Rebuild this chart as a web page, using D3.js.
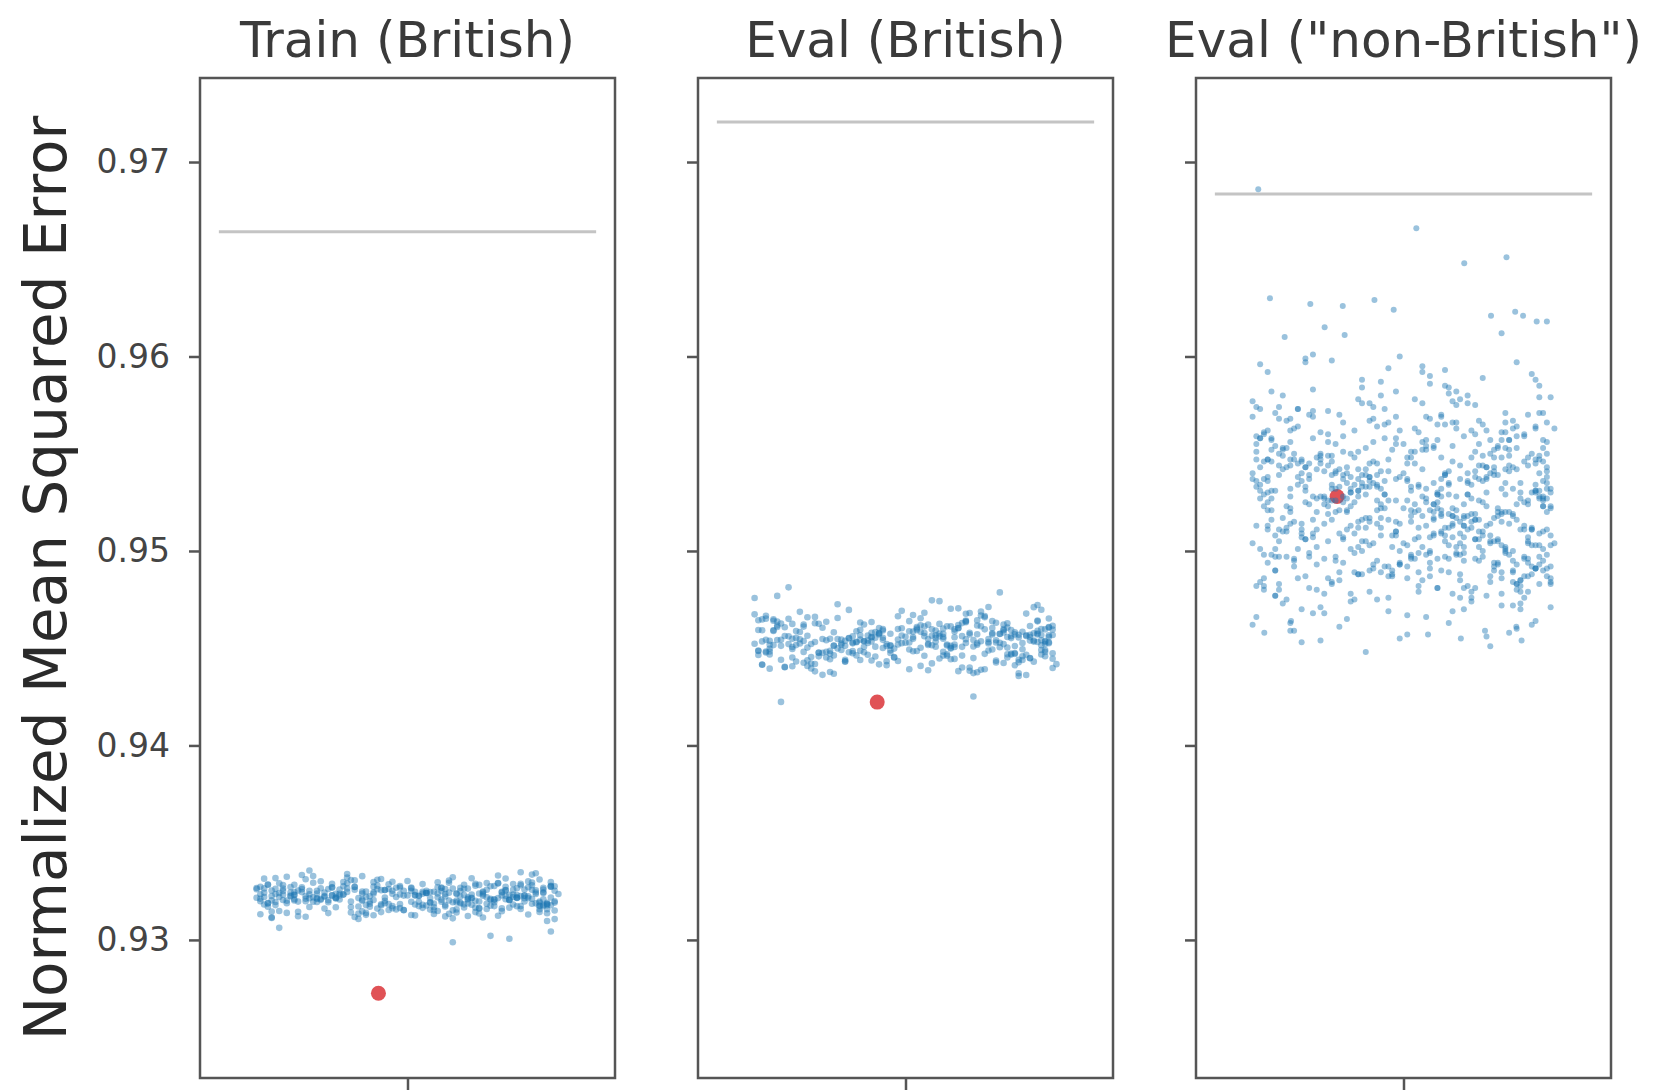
<!DOCTYPE html>
<html>
<head>
<meta charset="utf-8">
<script src="https://cdn.jsdelivr.net/npm/d3@7"></script>
<style>
  html, body { margin: 0; padding: 0; background: #ffffff; }
  svg { display: block; }
</style>
</head>
<body>
<svg id="chart" width="1654" height="1090"></svg>
<script>
// ---------------- DATA ----------------
const panelTitles = ["Train (British)", "Eval (British)", "Eval (\"non-British\")"];
const yAxisTitle = "Normalized Mean Squared Error";
const yTickValues = [0.93, 0.94, 0.95, 0.96, 0.97];
const yTickLabels = ["0.93", "0.94", "0.95", "0.96", "0.97"];

// horizontal reference line per panel
const baselineMSE = [0.96641, 0.97206, 0.96835];
// red marker per panel (x jitter, value)
const modelJitter = [-0.077, -0.075, -0.176];
const modelMSE = [0.92726, 0.94223, 0.9528];

// horizontal jitter positions of the blue points
const jitter = [
-0.31,0.07,0.26,-0.12,0.38,-0.04,0.19,-0.27,0.33,-0.36,0.02,0.14,-0.21,0.29,-0.08,0.35,-0.16,0.22,-0.39,0.10,
0.31,-0.02,-0.33,0.17,-0.25,0.05,0.37,-0.14,0.24,-0.06,0.40,-0.29,0.12,-0.18,0.28,-0.37,0.03,0.20,-0.10,0.34,
-0.23,0.09,-0.35,0.27,-0.01,0.15,-0.30,0.36,-0.11,0.21,-0.38,0.06,0.32,-0.19,0.13,-0.26,0.39,-0.07,0.25,-0.34,
0.01,-0.15,0.30,-0.22,0.18,-0.40,0.11,0.35,-0.05,0.23,-0.32,0.08,-0.17,0.37,-0.28,0.16,-0.09,0.26,-0.36,0.04,
0.33,-0.20,0.14,-0.03,0.38,-0.24,0.06,-0.13,0.29,-0.39,0.19,-0.07,0.31,-0.30,0.10,0.22,-0.16,0.36,-0.01,-0.27,
0.12,-0.34,0.27,-0.09,0.17,0.39,-0.21,0.03,-0.37,0.24,-0.12,0.34,-0.04,0.15,-0.25,0.07,0.30,-0.32,0.20,-0.14,
-0.06,0.37,-0.18,0.11,-0.29,0.25,-0.02,0.32,-0.39,0.13,0.04,-0.23,0.35,-0.10,0.21,-0.33,0.09,-0.15,0.28,-0.26,
0.18,-0.08,0.38,-0.31,0.01,0.23,-0.19,0.14,-0.36,0.30,-0.05,0.10,-0.27,0.36,-0.13,0.05,0.26,-0.38,0.16,-0.22,
-0.11,0.29,-0.35,0.08,0.19,-0.03,0.33,-0.24,0.12,-0.40,0.22,0.02,-0.17,0.39,-0.09,0.27,-0.30,0.15,-0.20,0.34,
0.06,-0.28,0.24,-0.14,0.31,-0.37,0.00,0.17,-0.07,0.36,-0.23,0.13,-0.33,0.20,0.09,-0.12,0.38,-0.26,0.04,-0.18,
0.28,-0.39,0.16,-0.05,0.25,-0.16,0.35,-0.30,0.07,-0.21,0.32,-0.10,0.18,-0.34,0.02,0.37,-0.24,0.11,-0.02,0.23,
-0.36,0.14,-0.08,0.30,-0.19,0.05,0.39,-0.28,0.21,-0.12,0.01,0.27,-0.39,0.10,-0.25,0.33,-0.06,0.19,-0.31,0.08,
0.36,-0.13,0.22,-0.35,0.12,-0.01,0.29,-0.20,0.03,0.34,-0.27,0.16,-0.09,0.24,-0.38,0.07,-0.15,0.31,-0.04,0.18,
-0.24,0.38,-0.11,0.05,-0.32,0.26,-0.17,0.13,0.33,-0.06,0.20,-0.36,0.09,-0.22,0.37,-0.14,0.01,0.28,-0.29,0.15,
0.04,-0.26,0.32,-0.16,0.21,-0.04,0.10,-0.38,0.27,-0.09,0.35,-0.19,0.17,-0.31,0.06,0.39,-0.12,0.23,-0.35,0.00,
0.25,-0.07,0.13,-0.33,0.37,-0.22,0.08,0.30,-0.15,0.19,-0.40,0.02,-0.26,0.34,-0.02,0.16,-0.34,0.11,0.26,-0.10,
-0.30,0.20,-0.03,0.36,-0.25,0.15,-0.12,0.06,-0.37,0.28,0.11,-0.18,0.31,-0.07,0.22,-0.33,0.38,-0.20,0.09,-0.01,
0.35,-0.23,0.02,0.18,-0.35,0.29,-0.11,0.24,-0.04,0.12,-0.29,0.39,-0.16,0.07,-0.38,0.17,0.32,-0.08,0.14,-0.27,
-0.14,0.10,0.33,-0.21,0.04,-0.32,0.26,-0.06,0.37,-0.17,0.21,-0.02,-0.36,0.29,0.13,-0.24,0.05,0.35,-0.11,0.25,
0.08,-0.37,0.19,-0.13,0.30,0.03,-0.28,0.16,-0.20,0.38,-0.05,0.23,-0.34,0.12,-0.09,0.27,-0.30,0.01,0.36,-0.19
];

const trainBritishMSE = [
0.93224,0.93187,0.93256,0.93201,0.93278,0.93163,0.93239,0.93212,0.93295,0.93146,0.93231,0.93268,0.93194,0.93218,0.93309,0.93175,0.93247,0.93206,0.93132,0.93261,
0.93229,0.93184,0.93252,0.93317,0.93196,0.93241,0.93158,0.93273,0.93215,0.93189,0.93236,0.93122,0.93264,0.93208,0.93287,0.93171,0.93226,0.93249,0.93198,0.93343,
0.93211,0.93267,0.93179,0.93232,0.93154,0.93284,0.93203,0.93245,0.93139,0.93258,0.93221,0.93192,0.93301,0.93168,0.93237,0.93214,0.93276,0.93183,0.93229,0.93062,
0.93252,0.93197,0.93225,0.93161,0.93289,0.93217,0.93243,0.93176,0.93262,0.93208,0.93325,0.93149,0.93234,0.93191,0.93271,0.93219,0.93127,0.93255,0.93204,0.93238,
0.93186,0.93269,0.93222,0.93157,0.93297,0.93213,0.93246,0.93172,0.93231,0.93199,0.93283,0.93143,0.93259,0.93209,0.93236,0.93021,0.93265,0.93181,0.93228,0.93312,
0.93194,0.93241,0.93166,0.93274,0.93216,0.93253,0.93138,0.93227,0.93188,0.93291,0.93207,0.93244,0.93174,0.93263,0.93219,0.93152,0.93281,0.93202,0.93235,0.93118,
0.93257,0.93185,0.93229,0.93305,0.93197,0.93248,0.93164,0.93271,0.93212,0.93239,0.93181,0.93266,0.93144,0.93224,0.93293,0.93205,0.93251,0.93169,0.93233,0.93357,
0.93201,0.93261,0.93178,0.93243,0.93128,0.93277,0.93216,0.93192,0.93254,0.93159,0.93286,0.93223,0.93199,0.93268,0.93135,0.93241,0.93209,0.93315,0.93187,0.93226,
0.93249,0.93173,0.93236,0.93296,0.93162,0.93221,0.93258,0.93195,0.92988,0.93267,0.93211,0.93182,0.93276,0.93151,0.93238,0.93204,0.93284,0.93167,0.93229,0.93255,
0.93193,0.93246,0.93124,0.93272,0.93214,0.93189,0.93303,0.93233,0.93177,0.93259,0.93206,0.93141,0.93264,0.93227,0.93196,0.93328,0.93218,0.93253,0.93165,0.93237,
0.93182,0.93273,0.93208,0.93154,0.93244,0.93291,0.93197,0.93231,0.93133,0.93262,0.93215,0.93186,0.93279,0.93221,0.93248,0.93097,0.93239,0.93203,0.93269,0.93174,
0.93226,0.93251,0.93161,0.93288,0.93213,0.93242,0.93192,0.93334,0.93219,0.93147,0.93266,0.93205,0.93235,0.93179,0.93294,0.93212,0.93257,0.93136,0.93228,0.93271,
0.93241,0.93108,0.93276,0.93195,0.93322,0.93153,0.93217,0.93289,0.93174,0.93236,0.93119,0.93264,0.93205,0.93331,0.93182,0.93248,0.93141,0.93227,0.93299,0.93166,
0.93213,0.93274,0.93129,0.93252,0.93189,0.93316,0.93233,0.93157,0.93281,0.93201,0.93244,0.93113,0.93269,0.93222,0.93178,0.93306,0.93196,0.93258,0.93145,0.93231,
0.93287,0.93169,0.93224,0.93339,0.93186,0.93253,0.93121,0.93265,0.93208,0.93297,0.93158,0.93237,0.93181,0.93272,0.93215,0.93107,0.93249,0.93194,0.93318,0.93229,
0.93162,0.93256,0.93203,0.93282,0.93137,0.93243,0.93219,0.93174,0.93308,0.93197,0.93261,0.93126,0.93235,0.93188,0.93277,0.93211,0.93149,0.93294,0.93226,0.93171,
0.93246,0.93115,0.93268,0.93209,0.93329,0.93183,0.93239,0.93156,0.93285,0.93221,0.93134,0.93259,0.93198,0.93313,0.93176,0.93232,0.93043,0.93271,0.93207,0.93253,
0.93191,0.93302,0.93228,0.93143,0.93263,0.93216,0.93179,0.93292,0.93237,0.93111,0.93254,0.93199,0.93321,0.93168,0.93242,0.93214,0.93131,0.93279,0.93187,0.93225,
0.93258,0.93172,0.93336,0.93204,0.93247,0.93139,0.93273,0.93218,0.93185,0.93298,0.93159,0.93234,0.93116,0.93266,0.93193,0.93252,0.93177,0.93311,0.93222,0.93148,
0.93239,0.93284,0.93163,0.93215,0.93348,0.93196,0.93261,0.93123,0.93229,0.93274,0.93184,0.93207,0.93291,0.93152,0.93245,0.93006,0.93232,0.93269,0.93175,0.93218
];

const evalBritishMSE = [
0.94536,0.94471,0.94592,0.94508,0.94643,0.94452,0.94557,0.94419,0.94612,0.94523,0.94488,0.94671,0.94544,0.94398,0.94579,0.94503,0.94625,0.94462,0.94548,0.94711,
0.94517,0.94583,0.94436,0.94561,0.94495,0.94652,0.94528,0.94384,0.94604,0.94541,0.94476,0.94597,0.94512,0.94689,0.94447,0.94566,0.94531,0.94409,0.94618,0.94499,
0.94552,0.94465,0.94638,0.94521,0.94573,0.94441,0.94589,0.94506,0.94746,0.94482,0.94563,0.94527,0.94372,0.94609,0.94548,0.94491,0.94661,0.94519,0.94434,0.94577,
0.94538,0.94603,0.94457,0.94569,0.94513,0.94682,0.94474,0.94546,0.94392,0.94595,0.94529,0.94628,0.94486,0.94558,0.94421,0.94614,0.94501,0.94572,0.94813,0.94534,
0.94468,0.94587,0.94524,0.94649,0.94443,0.94565,0.94511,0.94378,0.94601,0.94539,0.94481,0.94634,0.94556,0.94427,0.94592,0.94515,0.94697,0.94459,0.94574,0.94252,
0.94532,0.94609,0.94479,0.94562,0.94404,0.94621,0.94518,0.94586,0.94448,0.94543,0.94668,0.94497,0.94576,0.94363,0.94597,0.94525,0.94639,0.94472,0.94553,0.94507,
0.94584,0.94438,0.94567,0.94512,0.94659,0.94489,0.94549,0.94416,0.94606,0.94535,0.94722,0.94463,0.94571,0.94521,0.94387,0.94615,0.94544,0.94493,0.94641,0.94559,
0.94505,0.94578,0.94445,0.94627,0.94533,0.94476,0.94591,0.94357,0.94552,0.94518,0.94674,0.94484,0.94564,0.94431,0.94599,0.94527,0.94769,0.94469,0.94581,0.94539,
0.94496,0.94613,0.94454,0.94568,0.94522,0.94401,0.94632,0.94547,0.94478,0.94594,0.94514,0.94655,0.94439,0.94575,0.94532,0.94224,0.94606,0.94487,0.94561,0.94526,
0.94642,0.94458,0.94557,0.94509,0.94589,0.94412,0.94622,0.94541,0.94475,0.94703,0.94516,0.94568,0.94433,0.94597,0.94535,0.94681,0.94466,0.94554,0.94382,0.94611,
0.94529,0.94574,0.94449,0.94636,0.94502,0.94563,0.94424,0.94598,0.94537,0.94491,0.94665,0.94545,0.94395,0.94582,0.94519,0.94628,0.94461,0.94571,0.94507,0.94787,
0.94553,0.94483,0.94617,0.94531,0.94441,0.94593,0.94524,0.94677,0.94472,0.94566,0.94413,0.94604,0.94542,0.94498,0.94635,0.94558,0.94452,0.94587,0.94515,0.94369,
0.94561,0.94422,0.94598,0.94487,0.94653,0.94513,0.94376,0.94622,0.94539,0.94468,0.94586,0.94705,0.94452,0.94571,0.94508,0.94638,0.94431,0.94547,0.94594,0.94482,
0.94527,0.94664,0.94441,0.94579,0.94396,0.94612,0.94521,0.94485,0.94631,0.94554,0.94418,0.94588,0.94502,0.94726,0.94467,0.94543,0.94609,0.94389,0.94565,0.94534,
0.94478,0.94625,0.94516,0.94452,0.94692,0.94562,0.94407,0.94599,0.94537,0.94471,0.94648,0.94523,0.94362,0.94582,0.94506,0.94659,0.94446,0.94571,0.94528,0.94617,
0.94493,0.94551,0.94428,0.94605,0.94542,0.94758,0.94461,0.94576,0.94511,0.94639,0.94402,0.94567,0.94524,0.94481,0.94687,0.94546,0.94437,0.94592,0.94518,0.94654,
0.94569,0.94443,0.94604,0.94498,0.94557,0.94381,0.94621,0.94533,0.94475,0.94644,0.94526,0.94417,0.94585,0.94549,0.94462,0.94712,0.94538,0.94491,0.94603,0.94425,
0.94512,0.94637,0.94469,0.94558,0.94401,0.94596,0.94541,0.94486,0.94667,0.94529,0.94439,0.94577,0.94515,0.94629,0.94455,0.94564,0.94371,0.94608,0.94536,0.94474,
0.94591,0.94459,0.94547,0.94613,0.94432,0.94574,0.94519,0.94678,0.94488,0.94556,0.94409,0.94626,0.94532,0.94466,0.94597,0.94543,0.94742,0.94479,0.94562,0.94503,
0.94449,0.94583,0.94526,0.94651,0.94392,0.94571,0.94514,0.94619,0.94483,0.94555,0.94433,0.94601,0.94537,0.94698,0.94463,0.94578,0.94521,0.94415,0.94642,0.94547
];

const evalNonBritishMSE = [
0.9523,0.9487,0.9561,0.9502,0.9538,0.9469,0.9575,0.9514,0.9496,0.9547,0.9531,0.9582,0.9478,0.9519,0.9556,0.9491,0.9507,0.9543,0.9466,0.9528,
0.9511,0.9569,0.9483,0.9535,0.9499,0.9592,0.9526,0.9474,0.9552,0.9517,0.9504,0.9563,0.9489,0.9541,0.9458,0.9529,0.9578,0.9495,0.9533,0.9512,
0.9548,0.9481,0.9521,0.9566,0.9493,0.9537,0.9463,0.9509,0.9584,0.9525,0.9501,0.9554,0.9476,0.9532,0.9518,0.9597,0.9486,0.9545,0.9506,0.9571,
0.9492,0.9527,0.9559,0.9471,0.9515,0.9540,0.9497,0.9588,0.9522,0.9484,0.9549,0.9508,0.9461,0.9536,0.9573,0.9513,0.9490,0.9557,0.9530,0.9479,
0.9544,0.9505,0.9566,0.9488,0.9520,0.9601,0.9498,0.9534,0.9472,0.9551,0.9516,0.9539,0.9482,0.9568,0.9510,0.9456,0.9528,0.9585,0.9494,0.9546,
0.9519,0.9477,0.9553,0.9503,0.9580,0.9532,0.9468,0.9524,0.9560,0.9490,0.9542,0.9511,0.9594,0.9485,0.9537,0.9500,0.9564,0.9473,0.9526,0.9550,
0.9508,0.9571,0.9495,0.9539,0.9459,0.9522,0.9555,0.9487,0.9533,0.9577,0.9512,0.9480,0.9547,0.9517,0.9589,0.9497,0.9529,0.9465,0.9541,0.9506,
0.9562,0.9493,0.9527,0.9475,0.9545,0.9514,0.9598,0.9502,0.9536,0.9483,0.9558,0.9521,0.9470,0.9549,0.9509,0.9576,0.9489,0.9531,0.9518,0.9454,
0.9535,0.9567,0.9498,0.9524,0.9481,0.9552,0.9507,0.9583,0.9529,0.9462,0.9543,0.9515,0.9570,0.9492,0.9538,0.9501,0.9556,0.9476,0.9523,0.9591,
0.9513,0.9486,0.9548,0.9530,0.9470,0.9561,0.9504,0.9540,0.9495,0.9579,0.9520,0.9478,0.9544,0.9510,0.9565,0.9488,0.9532,0.9599,0.9499,0.9526,
0.9557,0.9482,0.9517,0.9573,0.9505,0.9539,0.9464,0.9528,0.9586,0.9496,0.9546,0.9512,0.9474,0.9554,0.9521,0.9490,0.9569,0.9508,0.9537,0.9451,
0.9525,0.9563,0.9491,0.9542,0.9516,0.9595,0.9484,0.9534,0.9500,0.9551,0.9467,0.9529,0.9574,0.9509,0.9545,0.9479,0.9522,0.9560,0.9497,0.9535,
0.9503,0.9548,0.9477,0.9531,0.9581,0.9514,0.9489,0.9556,0.9520,0.9462,0.9540,0.9507,0.9567,0.9494,0.9527,0.9590,0.9511,0.9473,0.9547,0.9519,
0.9572,0.9498,0.9533,0.9485,0.9553,0.9515,0.9542,0.9469,0.9526,0.9587,0.9502,0.9538,0.9481,0.9561,0.9510,0.9530,0.9457,0.9549,0.9495,0.9578,
0.9521,0.9487,0.9559,0.9506,0.9544,0.9476,0.9532,0.9596,0.9499,0.9517,0.9564,0.9483,0.9536,0.9512,0.9552,0.9471,0.9528,0.9505,0.9582,0.9540,
0.9493,0.9534,0.9566,0.9480,0.9523,0.9550,0.9509,0.9460,0.9543,0.9516,0.9577,0.9496,0.9531,0.9488,0.9558,0.9524,0.9501,0.9593,0.9478,0.9539,
0.9514,0.9555,0.9490,0.9527,0.9570,0.9504,0.9537,0.9466,0.9546,0.9520,0.9585,0.9497,0.9530,0.9475,0.9562,0.9511,0.9541,0.9486,0.9522,0.9600,
0.9545,0.9502,0.9533,0.9479,0.9557,0.9518,0.9588,0.9492,0.9526,0.9463,0.9550,0.9508,0.9537,0.9568,0.9484,0.9529,0.9513,0.9574,0.9498,0.9453,
0.9532,0.9569,0.9494,0.9541,0.9507,0.9580,0.9472,0.9524,0.9553,0.9489,0.9536,0.9515,0.9592,0.9500,0.9546,0.9468,0.9528,0.9563,0.9505,0.9539,
0.9516,0.9482,0.9551,0.9525,0.9597,0.9496,0.9538,0.9470,0.9544,0.9511,0.9565,0.9487,0.9531,0.9503,0.9576,0.9520,0.9459,0.9548,0.9493,0.9534,
0.9521,0.9498,0.9543,0.9512,0.9535,0.9487,0.9553,0.9526,0.9504,0.9539,0.9517,0.9562,0.9493,0.9529,0.9548,0.9509,0.9531,0.9475,0.9556,0.9519,
0.9534,0.9502,0.9547,0.9516,0.9490,0.9558,0.9524,0.9541,0.9508,0.9570,0.9528,0.9496,0.9537,0.9513,0.9551,0.9485,0.9522,0.9545,0.9500,0.9532,
0.9515,0.9549,0.9492,0.9527,0.9564,0.9505,0.9538,0.9479,0.9523,0.9555,0.9511,0.9533,0.9497,0.9542,0.9518,0.9574,0.9506,0.9530,0.9488,0.9550,
0.9525,0.9482,0.9540,0.9514,0.9559,0.9499,0.9536,0.9520,0.9566,0.9503,0.9544,0.9491,0.9527,0.9511,0.9553,0.9534,0.9477,0.9518,0.9546,0.9507,
0.9539,0.9510,0.9557,0.9494,0.9528,0.9568,0.9516,0.9484,0.9542,0.9523,0.9501,0.9549,0.9531,0.9486,0.9561,0.9513,0.9537,0.9497,0.9524,0.9580,
0.9506,0.9543,0.9520,0.9571,0.9489,0.9530,0.9552,0.9512,0.9538,0.9495,0.9526,0.9563,0.9503,0.9547,0.9481,0.9533,0.9517,0.9558,0.9499,0.9540,
0.9527,0.9492,0.9548,0.9509,0.9535,0.9576,0.9518,0.9542,0.9486,0.9521,0.9554,0.9504,0.9532,0.9567,0.9513,0.9496,0.9545,0.9523,0.9478,0.9537,
0.9552,0.9515,0.9488,0.9533,0.9506,0.9560,0.9525,0.9497,0.9541,0.9518,0.9573,0.9502,0.9536,0.9491,0.9549,0.9529,0.9510,0.9557,0.9483,0.9531,
0.9508,0.9546,0.9522,0.9494,0.9564,0.9514,0.9539,0.9501,0.9528,0.9553,0.9480,0.9535,0.9519,0.9569,0.9497,0.9543,0.9511,0.9526,0.9559,0.9490,
0.9540,0.9503,0.9529,0.9562,0.9516,0.9487,0.9547,0.9524,0.9509,0.9578,0.9532,0.9498,0.9544,0.9512,0.9555,0.9485,0.9521,0.9538,0.9505,0.9566,
0.9519,0.9557,0.9493,0.9534,0.9511,0.9548,0.9476,0.9527,0.9563,0.9500,0.9539,0.9516,0.9584,0.9492,0.9530,0.9551,0.9507,0.9543,0.9482,0.9525,
0.9546,0.9499,0.9536,0.9513,0.9570,0.9505,0.9528,0.9489,0.9552,0.9520,0.9541,0.9495,0.9533,0.9565,0.9510,0.9547,0.9484,0.9522,0.9558,0.9502,
0.9531,0.9488,0.9554,0.9517,0.9537,0.9496,0.9562,0.9524,0.9506,0.9545,0.9513,0.9572,0.9491,0.9529,0.9550,0.9508,0.9535,0.9479,0.9542,0.9520,
0.9503,0.9540,0.9526,0.9567,0.9494,0.9532,0.9515,0.9556,0.9487,0.9538,0.9511,0.9548,0.9521,0.9498,0.9575,0.9514,0.9543,0.9504,0.9530,0.9559,
0.9523,0.9547,0.9490,0.9535,0.9508,0.9568,0.9518,0.9481,0.9552,0.9527,0.9501,0.9541,0.9512,0.9563,0.9496,0.9534,0.9520,0.9557,0.9486,0.9545,
0.9537,0.9505,0.9550,0.9493,0.9529,0.9516,0.9571,0.9500,0.9544,0.9522,0.9483,0.9539,0.9510,0.9558,0.9525,0.9497,0.9546,0.9507,0.9533,0.9579,
0.9514,0.9553,0.9497,0.9536,0.9520,0.9483,0.9549,0.9527,0.9504,0.9565,0.9531,0.9492,0.9540,0.9517,0.9554,0.9509,0.9528,0.9573,0.9495,0.9538,
0.9548,0.9511,0.9534,0.9487,0.9560,0.9521,0.9502,0.9543,0.9516,0.9569,0.9499,0.9532,0.9555,0.9506,0.9526,0.9485,0.9547,0.9519,0.9537,0.9494,
0.9528,0.9562,0.9507,0.9541,0.9490,0.9535,0.9515,0.9576,0.9503,0.9524,0.9551,0.9480,0.9543,0.9512,0.9530,0.9566,0.9498,0.9539,0.9521,0.9553,
0.9510,0.9544,0.9523,0.9489,0.9557,0.9532,0.9505,0.9547,0.9518,0.9582,0.9496,0.9536,0.9513,0.9561,0.9527,0.9491,0.9542,0.9508,0.9550,0.9525
];

// individually visible stray points of the "non-British" panel: [jitter, value]
const nonBritishStrays = [
[-0.385,0.9686],[0.034,0.9666],[0.161,0.9648],[0.273,0.9651],[-0.354,0.9630],[-0.247,0.9627],
[-0.161,0.9626],[-0.077,0.9629],[-0.026,0.9624],[0.232,0.9621],[0.296,0.9623],[0.317,0.9621],
[0.353,0.9618],[0.380,0.9618],[-0.315,0.9610],[-0.209,0.9615],[-0.156,0.9611],[0.260,0.9612],
[-0.369,0.9458],[-0.100,0.9448],[-0.010,0.9455],[0.065,0.9457],[0.152,0.9455],[0.313,0.9454],
[0.216,0.9459],[0.299,0.9461],[-0.298,0.9464]
];

// ---------------- LAYOUT ----------------
const svg = d3.select("#chart");
const panelLeft = [200, 698, 1196];
const panelW = 415, panelTop = 78, panelH = 1000;
const dotRadius = [3.3, 3.3, 3.0];
const font = "'DejaVu Sans', 'Liberation Sans', sans-serif";

const x = d3.scaleLinear().domain([-0.55, 0.55]).range([0, panelW]);
const y = d3.scaleLinear().domain([0.92290, 0.97432]).range([panelH, 0]);

const nJ = jitter.length;
const panelPoints = [
  trainBritishMSE.map((v, i) => [jitter[i % nJ], v]),
  evalBritishMSE.map((v, i) => [jitter[(i + 160) % nJ], v]),
  evalNonBritishMSE.map((v, i) => [jitter[(i < nJ ? i : i + 137) % nJ], v]).concat(nonBritishStrays)
];

panelTitles.forEach((title, p) => {
  const g = svg.append("g").attr("transform", `translate(${panelLeft[p]},${panelTop})`);

  // title
  svg.append("text")
    .attr("x", panelLeft[p] + panelW / 2)
    .attr("y", 57)
    .attr("text-anchor", "middle")
    .attr("font-family", font)
    .attr("font-size", 50)
    .attr("fill", "#3a3a3a")
    .text(title);

  // baseline
  g.append("line")
    .attr("x1", x(-0.5)).attr("x2", x(0.5))
    .attr("y1", y(baselineMSE[p])).attr("y2", y(baselineMSE[p]))
    .attr("stroke", "#c4c4c4").attr("stroke-width", 3);

  // model point (red)
  g.append("circle")
    .attr("cx", x(modelJitter[p])).attr("cy", y(modelMSE[p]))
    .attr("r", 7.5).attr("fill", "#e05256");

  // blue points
  g.append("g").selectAll("circle")
    .data(panelPoints[p])
    .join("circle")
    .attr("cx", d => x(d[0]))
    .attr("cy", d => y(d[1]))
    .attr("r", dotRadius[p])
    .attr("fill", "#1f77b4")
    .attr("fill-opacity", 0.45);

  // frame
  g.append("rect")
    .attr("x", 0).attr("y", 0).attr("width", panelW).attr("height", panelH)
    .attr("fill", "none").attr("stroke", "#555").attr("stroke-width", 2.5);

  // y axis
  const yAxis = d3.axisLeft(y).tickValues(yTickValues).tickSize(11).tickPadding(19)
    .tickFormat((d, i) => p === 0 ? yTickLabels[i] : "");
  const ya = g.append("g").call(yAxis);
  ya.select(".domain").remove();
  ya.selectAll(".tick line").attr("stroke", "#555").attr("stroke-width", 2.5);
  ya.selectAll(".tick text").attr("font-family", font).attr("font-size", 33).attr("fill", "#444");

  // x axis (single tick at center)
  const xAxis = d3.axisBottom(x).tickValues([0]).tickSize(12).tickFormat("");
  const xa = g.append("g").attr("transform", `translate(0,${panelH})`).call(xAxis);
  xa.select(".domain").remove();
  xa.selectAll(".tick line").attr("stroke", "#555").attr("stroke-width", 2.5);
});

// y-axis title
svg.append("text")
  .attr("transform", `translate(66,${panelTop + panelH / 2}) rotate(-90)`)
  .attr("text-anchor", "middle")
  .attr("font-family", font)
  .attr("font-size", 58)
  .attr("fill", "#2a2a2a")
  .text(yAxisTitle);
</script>
</body>
</html>
